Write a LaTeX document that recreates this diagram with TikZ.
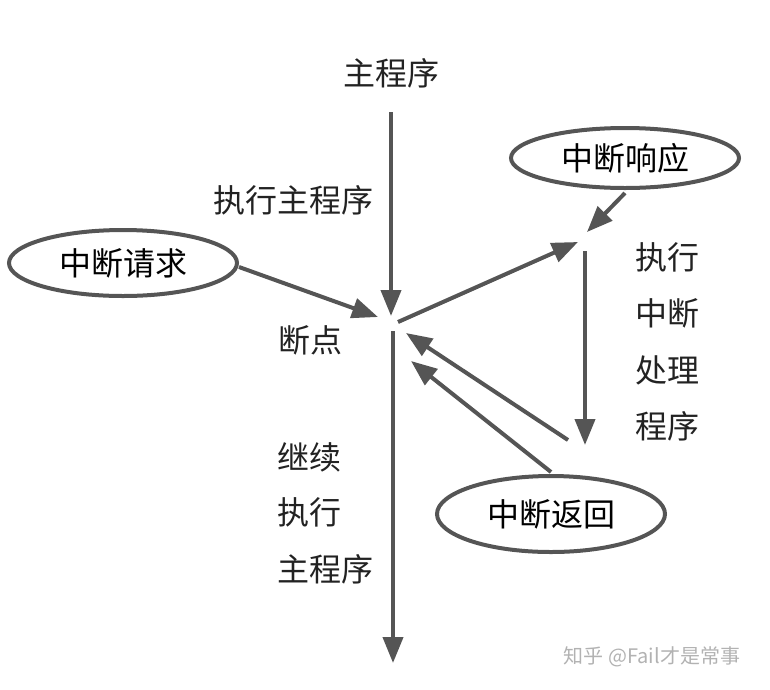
\documentclass[tikz,border=0pt]{standalone}
\usepackage{fontspec}
\setmainfont{Noto Sans CJK SC}
\usetikzlibrary{arrows.meta,shapes.geometric}
\definecolor{linegray}{HTML}{555555}
\definecolor{textgray}{HTML}{222222}
\tikzset{
    arr/.style={-{Triangle[length=26pt,width=20pt]}, line width=4pt, linegray},
    oval/.style={ellipse, draw=linegray, line width=4pt, minimum width=228pt, minimum height=66pt, inner sep=0pt},
    label/.style={text=textgray, font=\fontsize{32}{36}\selectfont, inner sep=0pt}
}
\begin{document}
\begin{tikzpicture}[x=1pt, y=-1pt]
    \useasboundingbox (0,0) rectangle (770,689);
    % 主程序
    \node[label] (main) at (391, 73) {主程序};
    \node[label] (run) at (293, 200) {执行主程序};
    \coordinate (mtop) at (391, 112);
    \coordinate (bp) at (391, 316);
    \draw[arr] (mtop) -- (bp);

    % 中断请求
    \node[oval] (req) at (123, 263) {\fontsize{32}{36}\selectfont 中断请求};
    \coordinate (reqend) at (378, 317);
    \draw[arr] (req.east) ++(0,4) coordinate (reqstart) -- (reqend);
    \node[label] (bpl) at (310, 340) {断点};

    % 转向中断处理
    \coordinate (out) at (398, 322);
    \coordinate (isr) at (578, 242);
    \draw[arr] (out) -- (isr);

    % 中断响应
    \node[oval, minimum height=60pt] (resp) at (625, 158) {\fontsize{32}{36}\selectfont 中断响应};
    \coordinate (respend) at (587, 232);
    \draw[arr] (resp.south) ++(0,3) coordinate (respstart) -- (respend);

    % 执行中断处理程序
    \coordinate (istop) at (585, 251);
    \coordinate (isbot) at (585, 445);
    \draw[arr] (istop) -- (isbot);
    \node[label] (h1) at (667, 257) {执行};
    \node[label] (h2) at (667, 313) {中断};
    \node[label] (h3) at (667, 370) {处理};
    \node[label] (h4) at (667, 426) {程序};

    % 返回断点
    \coordinate (ret) at (568, 440);
    \coordinate (back) at (406, 333);
    \draw[arr] (ret) -- (back);

    % 中断返回
    \node[oval, minimum height=76pt] (iret) at (551, 514) {\fontsize{32}{36}\selectfont 中断返回};
    \coordinate (backb) at (411, 361);
    \draw[arr] (iret.north) ++(0,-2) coordinate (iretstart) -- (backb);

    % 继续执行主程序
    \coordinate (ctop) at (393, 331);
    \coordinate (cbot) at (393, 663);
    \draw[arr] (ctop) -- (cbot);
    \node[label, anchor=west] (c1) at (277, 457) {继续};
    \node[label, anchor=west] (c2) at (277, 512) {执行};
    \node[label, anchor=west] (c3) at (277, 569) {主程序};

    % 水印
    \node[text=black!30, font=\fontsize{20}{24}\selectfont, inner sep=0pt] (mark) at (652, 657) {知乎 @Fail才是常事};
\end{tikzpicture}
\end{document}
